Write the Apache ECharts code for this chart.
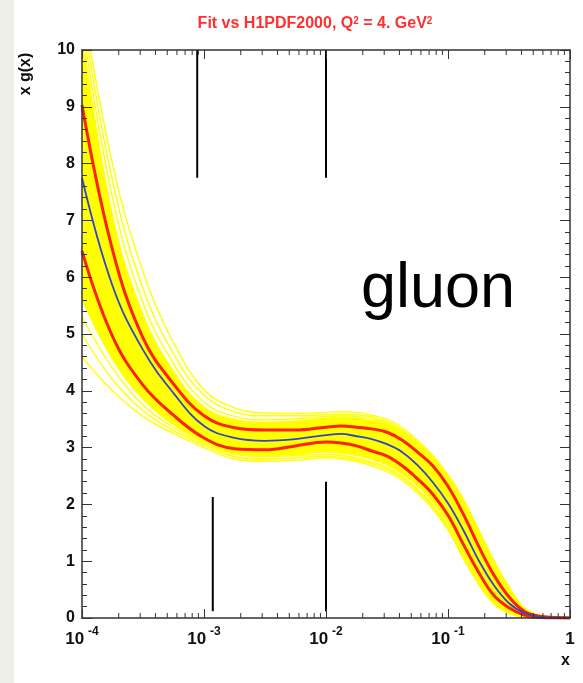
<!DOCTYPE html>
<html><head><meta charset="utf-8">
<script src="https://cdn.jsdelivr.net/npm/echarts@6/dist/echarts.min.js"></script>
<style>html,body{margin:0;padding:0;background:#fff}#c{width:583px;height:683px}</style>
</head><body><div id="c"></div>
<script>
// x sample points: quarter decades up to 1e-2, eighth decades above
const xs = [1e-4, 1.778e-4, 3.162e-4, 5.623e-4, 1e-3, 1.778e-3, 3.162e-3, 5.623e-3,
  1e-2, 1.334e-2, 1.778e-2, 2.371e-2, 3.162e-2, 4.217e-2, 5.623e-2, 7.499e-2,
  0.1, 0.1334, 0.1778, 0.2371, 0.3162, 0.4217, 0.5623, 0.7499, 1];
// central fit (blue)
const central = [7.75, 5.85, 4.72, 3.96, 3.38, 3.17, 3.12, 3.15,
  3.22, 3.24, 3.20, 3.15, 3.06, 2.92, 2.69, 2.39, 2.02, 1.55, 1.02, 0.58, 0.26, 0.09, 0.02, 0.0, 0];
// error band (red)
const errUp = [9.03, 6.48, 4.93, 4.12, 3.56, 3.35, 3.31, 3.31,
  3.36, 3.38, 3.36, 3.33, 3.27, 3.13, 2.92, 2.68, 2.32, 1.83, 1.27, 0.76, 0.37, 0.12, 0.03, 0.01, 0];
const errLo = [6.46, 4.96, 4.10, 3.57, 3.17, 2.98, 2.96, 3.03,
  3.10, 3.08, 3.03, 2.94, 2.85, 2.68, 2.45, 2.18, 1.81, 1.30, 0.81, 0.40, 0.18, 0.05, 0.01, 0, 0];
// dense yellow replica core (upper / lower edge)
const coreUp = [10.3, 7.1, 5.35, 4.35, 3.72, 3.50, 3.45, 3.47,
  3.52, 3.53, 3.52, 3.48, 3.41, 3.27, 3.05, 2.79, 2.47, 2.02, 1.48, 0.93, 0.50, 0.17, 0.04, 0.01, 0];
const coreLo = [5.6, 4.55, 3.85, 3.40, 3.10, 2.90, 2.86, 2.88,
  2.92, 2.90, 2.86, 2.79, 2.69, 2.53, 2.32, 2.04, 1.66, 1.15, 0.68, 0.30, 0.10, 0.02, 0, 0, 0];
// individual yellow replica curves outside the core
const rep1 = [10.9, 8.0, 6.1, 4.85, 4.02, 3.70, 3.61, 3.60,
  3.62, 3.63, 3.62, 3.57, 3.50, 3.35, 3.13, 2.86, 2.52, 2.10, 1.56, 1.02, 0.55, 0.18, 0.05, 0.01, 0];
const rep2 = [10.7, 7.7, 5.8, 4.65, 3.92, 3.63, 3.56, 3.56,
  3.58, 3.59, 3.58, 3.54, 3.46, 3.31, 3.09, 2.83, 2.50, 2.06, 1.52, 0.97, 0.53, 0.17, 0.045, 0.01, 0];
const rep3 = [10.5, 7.4, 5.55, 4.48, 3.80, 3.55, 3.49, 3.51,
  3.55, 3.56, 3.55, 3.51, 3.43, 3.29, 3.07, 2.81, 2.49, 2.04, 1.50, 0.95, 0.51, 0.17, 0.04, 0.01, 0];
const rep4 = [5.3, 4.4, 3.75, 3.35, 3.07, 2.88, 2.84, 2.86,
  2.88, 2.86, 2.82, 2.75, 2.65, 2.49, 2.27, 1.99, 1.61, 1.10, 0.64, 0.28, 0.09, 0.015, 0, 0, 0];
const rep5 = [5.0, 4.2, 3.65, 3.30, 3.04, 2.84, 2.80, 2.82,
  2.85, 2.83, 2.79, 2.72, 2.62, 2.46, 2.24, 1.96, 1.58, 1.08, 0.62, 0.27, 0.085, 0.012, 0, 0, 0];
const rep6 = [4.6, 4.0, 3.55, 3.25, 3.00, 2.80, 2.76, 2.78,
  2.82, 2.80, 2.76, 2.68, 2.58, 2.42, 2.20, 1.92, 1.55, 1.05, 0.60, 0.25, 0.08, 0.01, 0, 0, 0];
// black vertical marker segments: x, y from, y to
const segX = [8.8e-4, 1e-2, 1.18e-3, 1e-2];
const segY0 = [7.75, 7.75, 0.12, 0.12];
const segY1 = [10, 10, 2.13, 2.40];
// log minor tick positions
const minorX = [2e-4,3e-4,4e-4,5e-4,6e-4,7e-4,8e-4,9e-4,2e-3,3e-3,4e-3,5e-3,6e-3,7e-3,8e-3,9e-3,2e-2,3e-2,4e-2,5e-2,6e-2,7e-2,8e-2,9e-2,0.2,0.3,0.4,0.5,0.6,0.7,0.8,0.9];

const pairs = a => xs.map((x, i) => [x, a[i]]);
const FONT = 'Liberation Sans';
const AX = '#333';

const chart = echarts.init(document.getElementById('c'), null, {renderer: 'canvas'});

function yellowLine(a) {
  return {type: 'line', data: pairs(a), smooth: 0.4, symbol: 'none', silent: true, z: 3,
    lineStyle: {color: '#ffff00', width: 1.4}};
}
function fitLine(a, color, width, z) {
  return {type: 'line', data: pairs(a), smooth: 0.4, symbol: 'none', silent: true, z: z,
    lineStyle: {color: color, width: width}};
}

const yAxisBase = {
  type: 'value', min: 0, max: 10, interval: 1, z: 10,
  axisLine: {show: true, lineStyle: {color: AX, width: 1.5}},
  axisTick: {show: true, inside: true, length: 10, lineStyle: {color: AX}},
  minorTick: {show: true, splitNumber: 5, length: 5, lineStyle: {color: AX}},
  splitLine: {show: false}, minorSplitLine: {show: false}
};
const xAxisBase = {
  type: 'log', logBase: 10, min: 1e-4, max: 1, z: 10,
  axisLine: {show: true, onZero: false, lineStyle: {color: AX, width: 1.5}},
  axisTick: {show: true, inside: true, length: 9, lineStyle: {color: AX}},
  splitLine: {show: false}
};

chart.setOption({
  animation: false,
  backgroundColor: '#fff',
  title: {
    text: 'Fit vs H1PDF2000, Q{s|2} = 4. GeV{s|2}',
    left: 310, top: 11, textAlign: 'center',
    textStyle: {color: '#ff3030', fontFamily: FONT, fontWeight: 'bold', fontSize: 16,
      rich: {s: {color: '#ff3030', fontFamily: FONT, fontWeight: 'bold', fontSize: 10, verticalAlign: 'top', padding: [0, 0, 6, 0]}}}
  },
  grid: {left: 82, right: 13, top: 50, bottom: 65, containLabel: false},
  xAxis: [
    Object.assign({}, xAxisBase, {
      position: 'bottom',
      axisLabel: {
        show: true, margin: 8, showMinLabel: true, showMaxLabel: true,
        formatter: v => {
          const e = Math.round(Math.log10(v));
          return e === 0 ? '{a|1}' : '{a|10}{s|' + e + '}';
        },
        rich: {
          a: {fontFamily: FONT, fontWeight: 'bold', fontSize: 17, color: '#111', lineHeight: 22, verticalAlign: 'bottom'},
          s: {fontFamily: FONT, fontWeight: 'bold', fontSize: 12, color: '#111', lineHeight: 22, verticalAlign: 'top', padding: [0, 0, 0, 4]}
        }
      }
    }),
    Object.assign({}, xAxisBase, {position: 'top', axisLabel: {show: false}})
  ],
  yAxis: [
    Object.assign({}, yAxisBase, {
      position: 'left',
      axisLabel: {show: true, margin: 7, fontFamily: FONT, fontWeight: 'bold', fontSize: 16, color: '#111'}
    }),
    Object.assign({}, yAxisBase, {position: 'right', axisLabel: {show: false}})
  ],
  graphic: [
    {type: 'rect', shape: {x: 0, y: 0, width: 14, height: 683}, style: {fill: '#efefea'}, z: -10},
    {type: 'text', x: 26, y: 74, rotation: Math.PI / 2,
      style: {text: 'x g(x)', font: 'bold 16px "Liberation Sans"', fill: '#111', align: 'center', verticalAlign: 'middle'}},
    {type: 'text', x: 570, y: 661,
      style: {text: 'x', font: 'bold 16px "Liberation Sans"', fill: '#111', align: 'right', verticalAlign: 'middle'}},
    {type: 'text', x: 361, y: 290,
      style: {text: 'gluon', font: '63px "Liberation Sans"', fill: '#000', align: 'left', verticalAlign: 'middle'}}
  ],
  series: [
    // dense core: yellow fill down from upper edge, white fill below lower edge
    {type: 'line', data: pairs(coreUp), smooth: 0.4, symbol: 'none', silent: true, z: 1,
      lineStyle: {color: '#ffff00', width: 1}, areaStyle: {color: '#ffff00', opacity: 1}},
    {type: 'line', data: pairs(coreLo), smooth: 0.4, symbol: 'none', silent: true, z: 2,
      lineStyle: {color: '#ffff00', width: 1}, areaStyle: {color: '#ffffff', opacity: 1}},
    yellowLine(rep1), yellowLine(rep2), yellowLine(rep3),
    yellowLine(rep4), yellowLine(rep5), yellowLine(rep6),
    fitLine(errUp, '#ff2200', 3, 4),
    fitLine(errLo, '#ff2200', 3, 4),
    fitLine(central, '#3344cc', 1.8, 5),
    {type: 'custom', silent: true, z: 6, clip: false,
      data: segX.map((x, i) => [x, segY0[i], segY1[i]]),
      renderItem: (params, api) => {
        const p0 = api.coord([api.value(0), api.value(1)]);
        const p1 = api.coord([api.value(0), api.value(2)]);
        return {type: 'line', shape: {x1: p0[0], y1: p0[1], x2: p1[0], y2: p1[1]},
          style: {stroke: '#000', lineWidth: 2}};
      }},
    {type: 'custom', silent: true, z: 7, clip: false,
      data: minorX.map(x => [x, 0]),
      renderItem: (params, api) => {
        const b = api.coord([api.value(0), 0]);
        const t = api.coord([api.value(0), 10]);
        return {type: 'group', children: [
          {type: 'line', shape: {x1: b[0], y1: b[1], x2: b[0], y2: b[1] - 5}, style: {stroke: AX, lineWidth: 1}},
          {type: 'line', shape: {x1: t[0], y1: t[1], x2: t[0], y2: t[1] + 5}, style: {stroke: AX, lineWidth: 1}}
        ]};
      }}
  ]
});
</script></body></html>
